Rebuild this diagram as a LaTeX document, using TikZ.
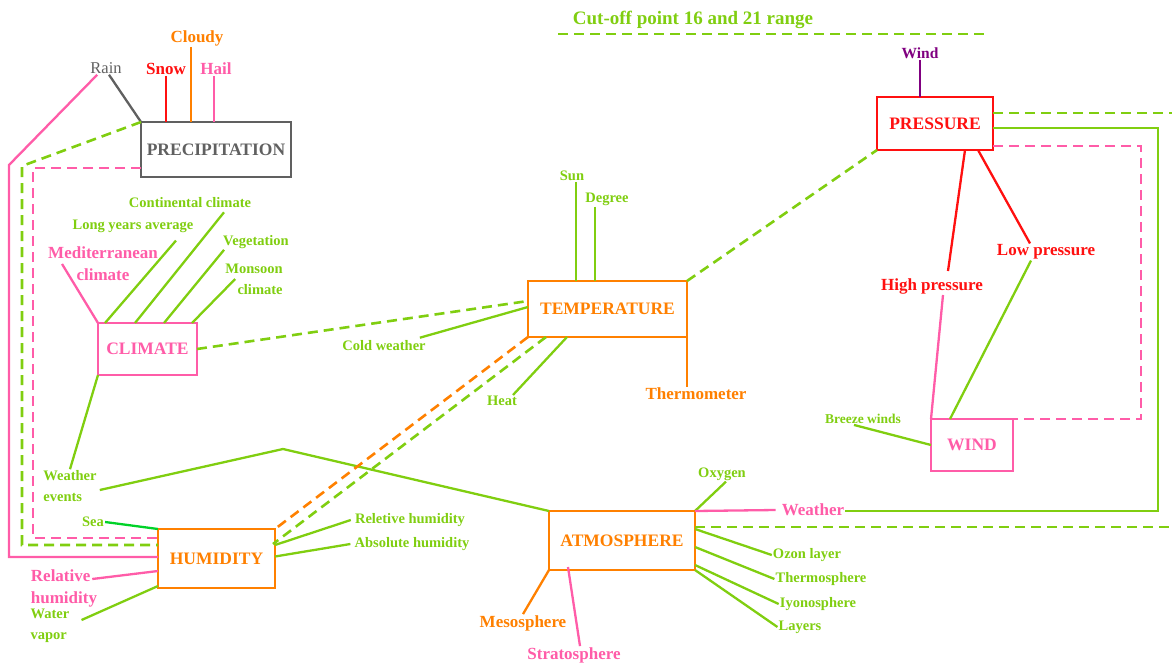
\documentclass[tikz,border=0pt]{standalone}
\usepackage{fontspec}
\setmainfont{Liberation Serif}
\usepackage{tikz}

\definecolor{leaf}{RGB}{128,206,16}
\definecolor{rose}{RGB}{255,92,168}
\definecolor{tang}{RGB}{255,128,0}
\definecolor{crim}{RGB}{255,16,16}
\definecolor{slate}{RGB}{96,96,96}
\definecolor{plum}{RGB}{128,0,128}
\definecolor{seag}{RGB}{0,210,40}

\begin{document}
\begin{tikzpicture}[x=1pt,y=-1pt,
  box/.style={draw,line width=2.8pt,inner sep=0pt,outer sep=0pt,font=\bfseries\fontsize{17.5}{19}\selectfont},
  lbl/.style={inner sep=1pt,align=center,font=\bfseries\fontsize{14.5}{21}\selectfont},
  big/.style={inner sep=1pt,align=center,font=\bfseries\fontsize{17}{22}\selectfont},
  ln/.style={line width=2.3pt},
  dsh/.style={line width=2.6pt,dash pattern=on 10pt off 6pt}]
  \useasboundingbox (0,0) rectangle (1172,664);

  \node[box,draw=slate,text=slate,minimum width=150pt,minimum height=55pt] (prec) at (216,149.5) {PRECIPITATION};
  \node[box,draw=rose,text=rose,minimum width=99pt,minimum height=52pt] (clim) at (147.5,349) {CLIMATE};
  \node[box,draw=tang,text=tang,minimum width=159pt,minimum height=56pt] (temp) at (607.5,309) {TEMPERATURE};
  \node[box,draw=crim,text=crim,minimum width=116pt,minimum height=53pt] (pres) at (935,123.5) {PRESSURE};
  \node[box,draw=rose,text=rose,minimum width=82pt,minimum height=52pt] (wind) at (972,445) {WIND};
  \node[box,draw=tang,text=tang,minimum width=117pt,minimum height=59pt] (hum) at (216.5,558.5) {HUMIDITY};
  \node[box,draw=tang,text=tang,minimum width=146pt,minimum height=59pt] (atm) at (622,540.5) {ATMOSPHERE};

  \node[lbl,text=leaf,font=\bfseries\fontsize{19}{20}\selectfont] (cut) at (693,20) {Cut-off point 16 and 21 range};
  \coordinate (cutL) at (558,34);
  \coordinate (cutR) at (990,34);
  \coordinate (rimA) at (1172,527);
  \coordinate (rimB) at (1172,113);

  \node[lbl,text=plum,font=\bfseries\fontsize{15.5}{17}\selectfont] (windl) at (920,53) {Wind};
  \node[big,text=tang] (cloudy) at (197,38) {Cloudy};
  \node[lbl,text=slate,font=\fontsize{16.5}{17}\selectfont] (rain) at (106,68) {Rain};
  \node[big,text=crim] (snow) at (166,69) {Snow};
  \node[big,text=rose] (hail) at (216,69) {Hail};

  \node[big,text=rose] (medit) at (103,264) {Mediterranean\\climate};
  \node[lbl,text=leaf] (lya) at (133,226) {Long years average};
  \node[lbl,text=leaf] (cont) at (190,203) {Continental climate};
  \node[lbl,text=leaf] (veg) at (256,242) {Vegetation};
  \node[lbl,text=leaf,align=right] (mons) at (254,279) {Monsoon\\climate};
  \node[lbl,text=leaf,align=left] (wev) at (70,486) {Weather\\events};

  \node[lbl,text=leaf] (sun) at (572,176) {Sun};
  \node[lbl,text=leaf] (deg) at (607,199) {Degree};
  \node[lbl,text=leaf] (cold) at (384,346) {Cold weather};
  \node[lbl,text=leaf] (heat) at (502,401) {Heat};
  \node[big,text=tang] (therm) at (696,394) {Thermometer};

  \node[lbl,text=leaf] (sea) at (93,522) {Sea};
  \node[big,text=rose,align=left] (relh) at (64,588) {Relative\\humidity};
  \node[lbl,text=leaf,align=left] (wvap) at (50,626) {Water\\vapor};
  \node[lbl,text=leaf] (relt) at (410,520) {Reletive humidity};
  \node[lbl,text=leaf] (absh) at (412,544) {Absolute humidity};

  \node[lbl,text=leaf] (oxy) at (722,474) {Oxygen};
  \node[big,text=rose] (weath) at (813,510) {Weather};
  \node[lbl,text=leaf] (ozon) at (807,555) {Ozon layer};
  \node[lbl,text=leaf] (thermo) at (821,579) {Thermosphere};
  \node[lbl,text=leaf] (iyo) at (818,604) {Iyonosphere};
  \node[lbl,text=leaf] (lay) at (800,627) {Layers};
  \node[big,text=tang] (meso) at (523,623) {Mesosphere};
  \node[big,text=rose] (strat) at (574,655) {Stratosphere};

  \node[big,text=crim] (hip) at (932,286) {High pressure};
  \node[big,text=crim] (lowp) at (1046,252) {Low pressure};
  \node[lbl,text=leaf,font=\bfseries\fontsize{13.5}{14}\selectfont] (breeze) at (863,419) {Breeze winds};

  \draw[dsh,leaf] (cutL) -- (cutR);

  % precipitation
  \draw[ln,slate] ([xshift=3pt]rain.south) -- (prec.north west);
  \draw[ln,crim] (snow.south) -- (snow.south |- prec.north);
  \draw[ln,tang] (cloudy.south) ++(-6,0) coordinate (cl) -- (cl |- prec.north);
  \draw[ln,rose] (hail.south) ++(-2,0) coordinate (hl) -- (hl |- prec.north);
  \draw[ln,rose] ([xshift=8pt]rain.south west) -- (9,165) |- ([yshift=1.5pt]hum.west);
  \draw[dsh,leaf] (prec.north west) -- (22,166) |- ([yshift=13.5pt]hum.west);
  \draw[dsh,rose] ([yshift=9pt]prec.south west) -| (33,538) -- ([yshift=-9pt]hum.north west);

  % climate
  \draw[ln,rose] ([xshift=15pt]medit.west) -- (clim.north west);
  \draw[ln,leaf] (lya.south) ++(43,7) -- ([xshift=7pt]clim.north west);
  \draw[ln,leaf] (cont.south) ++(34,3) -- ([xshift=37pt]clim.north west);
  \draw[ln,leaf] ([xshift=2pt]veg.south west) -- ([xshift=66pt]clim.north west);
  \draw[ln,leaf] ([xshift=11pt]mons.west) -- ([xshift=-5pt]clim.north east);
  \draw[dsh,leaf] (clim.east) -- ([yshift=8pt]temp.west);
  \draw[ln,leaf] (clim.south west) -- (wev.north);
  \draw[ln,leaf] (wev.east) ++(2,4) -- (283,449) -- (atm.north west);

  % temperature
  \draw[ln,leaf] (sun.south) ++(4,0) coordinate (su) -- (su |- temp.north);
  \draw[ln,leaf] (deg.south) ++(-12,0) coordinate (dg) -- (dg |- temp.north);
  \draw[ln,leaf] (cold.north east) ++(-7,-2) -- ([yshift=2pt]temp.west);
  \draw[ln,leaf] ([xshift=11pt]heat.north) -- ([xshift=39pt]temp.south west);
  \draw[ln,tang] (temp.south east) -- (temp.south east |- therm.north);
  \draw[dsh,leaf] (temp.north east) -- (pres.south west);
  \draw[dsh,tang] (temp.south west) -- (hum.north east);
  \draw[dsh,leaf] ([xshift=18pt]temp.south west) -- ([xshift=-2pt,yshift=-15pt]hum.north east);

  % humidity
  \draw[ln,seag] (sea.east) -- (hum.north west);
  \draw[ln,rose] (relh.east) ++(-6,-9) -- ([yshift=-12.5pt]hum.west);
  \draw[ln,leaf] (wvap.east) ++(11,-6) -- ([yshift=2pt]hum.south west);
  \draw[ln,leaf] ([xshift=-3pt]relt.west) -- ([yshift=-16pt]hum.north east);
  \draw[ln,leaf] ([xshift=-3pt]absh.west) -- ([yshift=2pt]hum.east);

  % atmosphere
  \draw[ln,leaf] (oxy.south) ++(4,0) -- (atm.north east);
  \draw[ln,rose] (atm.north east) -- ([xshift=-5pt]weath.west);
  \draw[ln,leaf] (weath.east) ++(0,1) -- (1158,511) |- ([yshift=-4.5pt]pres.east);
  \draw[dsh,leaf] ([yshift=-16pt]atm.north east) -- (rimA);
  \draw[ln,leaf] ([yshift=-18pt]atm.north east) -- (ozon.west);
  \draw[ln,leaf] ([yshift=-6.5pt]atm.east) -- (thermo.west);
  \draw[ln,leaf] ([yshift=5pt]atm.south east) -- (iyo.west);
  \draw[ln,leaf] (atm.south east) -- (lay.west);
  \draw[ln,tang] (atm.south west) -- (meso.north);
  \draw[ln,rose] ([xshift=19pt,yshift=3pt]atm.south west) -- ([xshift=6pt]strat.north);

  % pressure and wind
  \draw[ln,plum] (windl.south) -- (windl.south |- pres.north);
  \draw[dsh,leaf] ([yshift=-16pt]pres.north east) -- (rimB);
  \draw[dsh,rose] ([yshift=4pt]pres.south east) -- (1141,146) |- (wind.north east);
  \draw[ln,crim] ([xshift=-28pt]pres.south east) -- ([xshift=16pt,yshift=6pt]hip.north);
  \draw[ln,crim] ([xshift=-15pt]pres.south east) -- ([xshift=-16pt]lowp.north);
  \draw[ln,rose] ([xshift=11pt]hip.south) -- (wind.north west);
  \draw[ln,leaf] ([xshift=-15pt]lowp.south) -- ([xshift=19pt]wind.north west);
  \draw[ln,leaf] ([xshift=-9pt]breeze.south) -- (wind.west);
\end{tikzpicture}
\end{document}
